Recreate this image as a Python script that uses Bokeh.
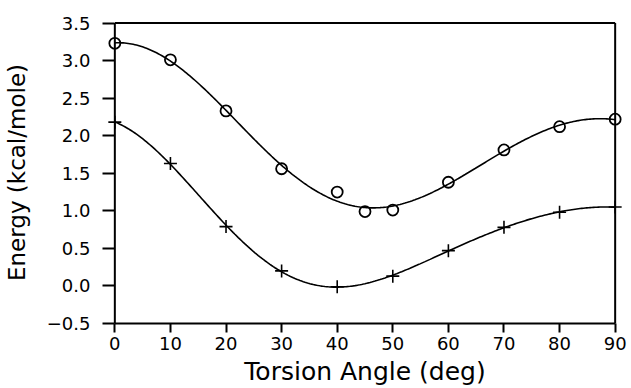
import numpy as np
from bokeh.plotting import figure
from bokeh.models import Range1d, FixedTicker
from bokeh.embed import file_html
from bokeh.resources import INLINE

# data
angle_circle = [0, 10, 20, 30, 40, 45, 50, 60, 70, 80, 90]
energy_circle = [3.23, 3.01, 2.33, 1.56, 1.25, 0.99, 1.01, 1.38, 1.81, 2.12, 2.22]
angle_plus = [0, 10, 20, 30, 40, 50, 60, 70, 80, 90]
energy_plus = [2.18, 1.63, 0.79, 0.20, -0.01, 0.13, 0.47, 0.78, 0.98, 1.05]
y_ticks = [-0.5, 0.0, 0.5, 1.0, 1.5, 2.0, 2.5, 3.0, 3.5]
x_ticks = [0, 10, 20, 30, 40, 50, 60, 70, 80, 90]
x_min, x_max = 0, 90
y_min, y_max = -0.5, 3.5


def fourier_fit(x, y, xs):
    t = np.radians(np.asarray(x, float))
    ts = np.radians(xs)
    def basis(a):
        return np.column_stack([np.ones_like(a), np.cos(2 * a), np.sin(2 * a),
                                np.cos(4 * a), np.sin(4 * a), np.cos(6 * a),
                                np.sin(6 * a)])
    coef, *_ = np.linalg.lstsq(basis(t), np.asarray(y, float), rcond=None)
    return basis(ts) @ coef


xs = np.linspace(x_min, x_max, 301)
fit_circle = fourier_fit(angle_circle, energy_circle, xs)
fit_plus = fourier_fit(angle_plus, energy_plus, xs)

FONT = "DejaVu Sans"

# small padding on x so the end markers are not clipped by the frame
pad_x = 1.5
p = figure(width=631, height=388, output_backend="svg", toolbar_location=None,
           x_range=Range1d(x_min - pad_x, x_max + pad_x),
           y_range=Range1d(y_min, y_max + 0.02),
           min_border_left=106, min_border_right=8, min_border_top=21,
           min_border_bottom=62)
p.xgrid.visible = False
p.ygrid.visible = False
p.outline_line_color = None
p.background_fill_color = "white"
p.border_fill_color = "white"

# left axis line, top and right frame lines
p.segment(x0=[x_min, x_min, x_max], y0=[y_min, y_max, y_min],
          x1=[x_min, x_max, x_max], y1=[y_max, y_max, y_max],
          line_color="black", line_width=2)

p.line(xs, fit_circle, line_color="black", line_width=1.6)
p.line(xs, fit_plus, line_color="black", line_width=1.6)
p.scatter(angle_circle, energy_circle, marker="circle", size=11,
          fill_color=None, line_color="black", line_width=1.8)
p.scatter(angle_plus, energy_plus, marker="cross", size=13,
          line_color="black", line_width=1.6)

xa = p.xaxis[0]
ya = p.yaxis[0]
xa.ticker = FixedTicker(ticks=x_ticks)
ya.ticker = FixedTicker(ticks=y_ticks)
xa.bounds = (x_min, x_max)
ya.major_label_overrides = {t: ("\u2212%.1f" % abs(t) if t < 0 else "%.1f" % t) for t in y_ticks}
for ax in (xa, ya):
    ax.axis_line_color = "black"
    ax.axis_line_width = 2
    ax.major_tick_line_color = "black"
    ax.major_tick_line_width = 2
    ax.minor_tick_line_color = None
    ax.major_label_text_font = FONT
    ax.major_label_text_font_size = "18px"
    ax.major_label_text_color = "black"
    ax.axis_label_text_font = FONT
    ax.axis_label_text_font_style = "normal"
    ax.axis_label_text_color = "black"
ya.axis_line_color = None
xa.axis_label_text_font_size = "25px"
ya.axis_label_text_font_size = "23px"
xa.major_tick_in = 0
xa.major_tick_out = 9
ya.major_tick_in = 8
ya.major_tick_out = 4
xa.major_label_standoff = 4
ya.major_label_standoff = 12
xa.axis_label = "Torsion Angle (deg)"
ya.axis_label = "Energy (kcal/mole)"
xa.axis_label_standoff = 4
ya.axis_label_standoff = 14

open("out.html", "w").write(file_html(p, INLINE))
